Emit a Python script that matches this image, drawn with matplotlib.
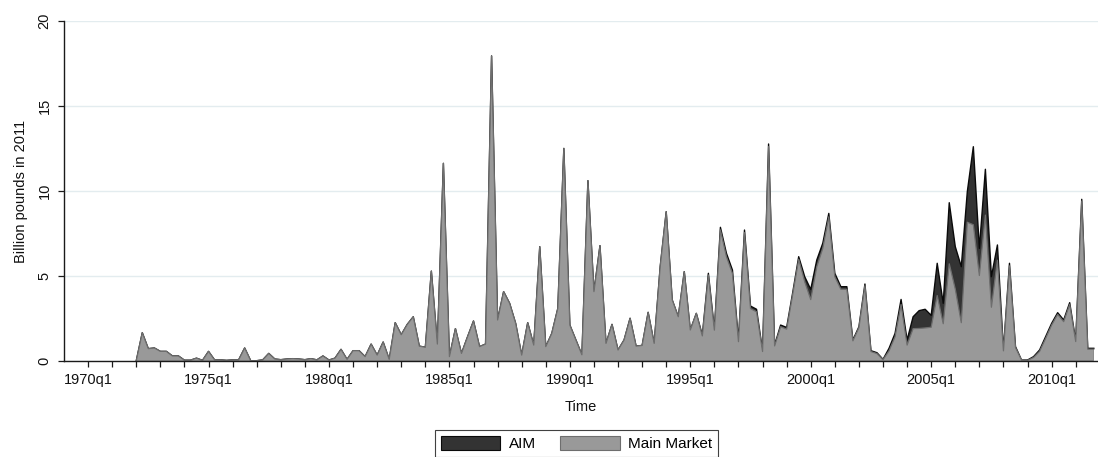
import matplotlib
matplotlib.use("Agg")
import matplotlib.pyplot as plt
import numpy as np
from matplotlib.patches import Patch

plt.rcParams["font.family"] = ["Liberation Sans", "DejaVu Sans"]

# Quarterly IPO proceeds, billion pounds (2011 prices), 1972q1 .. 2011q4
start_year = 1972
main_market = [
    0.0, 1.65, 0.71, 0.75, 0.55, 0.55, 0.28, 0.28,            # 1972-1973
    0.03, 0.03, 0.15, 0.02, 0.55, 0.05, 0.05, 0.02,           # 1974-1975
    0.05, 0.05, 0.75, 0.0, 0.0, 0.05, 0.43, 0.10,             # 1976-1977
    0.06, 0.10, 0.12, 0.10, 0.06, 0.12, 0.05, 0.28,           # 1978-1979
    0.04, 0.15, 0.67, 0.08, 0.59, 0.59, 0.24, 0.98,           # 1980-1981
    0.33, 1.10, 0.08, 2.24, 1.53, 2.14, 2.59, 0.86,           # 1982-1983
    0.79, 5.28, 0.98, 11.63, 0.24, 1.89, 0.43, 1.40,          # 1984-1985
    2.34, 0.83, 0.98, 17.96, 2.40, 4.07, 3.38, 2.20,          # 1986-1987
    0.33, 2.24, 0.92, 6.72, 0.83, 1.61, 3.08, 12.51,          # 1988-1989
    2.10, 1.22, 0.35, 10.61, 4.07, 6.78, 1.02, 2.14,          # 1990-1991
    0.63, 1.22, 2.50, 0.86, 0.90, 2.85, 1.02, 5.54,           # 1992-1993
    8.78, 3.58, 2.59, 5.25, 1.81, 2.79, 1.46, 5.05,           # 1994-1995
    1.80, 7.71, 6.13, 5.14, 1.12, 7.55, 3.07, 2.88,           # 1996-1997
    0.54, 12.62, 0.87, 2.00, 1.86, 3.90, 5.98, 4.65,          # 1998-1999
    3.60, 5.53, 6.62, 8.48, 4.95, 4.21, 4.21, 1.17,           # 2000-2001
    1.95, 4.42, 0.54, 0.42, 0.06, 0.58, 1.41, 3.31,           # 2002-2003
    0.92, 1.89, 1.90, 1.93, 1.97, 3.84, 2.18, 5.71,           # 2004-2005
    4.22, 2.24, 8.16, 8.01, 5.02, 8.58, 3.15, 5.92,           # 2006-2007
    0.58, 5.59, 0.78, 0.04, 0.02, 0.19, 0.55, 1.31,           # 2008-2009
    2.10, 2.73, 2.30, 3.32, 1.13, 9.41, 0.68, 0.68,           # 2010-2011
]
aim = [0] * 94 + [
    0.05, 0.10,                                               # 1995q3-q4
    0.05, 0.15, 0.20, 0.20, 0.10, 0.15, 0.15, 0.15,           # 1996-1997
    0.05, 0.15, 0.05, 0.10, 0.10, 0.10, 0.15, 0.30,           # 1998-1999
    0.60, 0.40, 0.30, 0.20, 0.20, 0.15, 0.15, 0.05,           # 2000-2001
    0.05, 0.10, 0.05, 0.05, 0.02, 0.15, 0.20, 0.30,           # 2002-2003
    0.30, 0.70, 1.05, 1.10, 0.70, 1.90, 1.20, 3.60,           # 2004-2005
    2.50, 3.30, 1.80, 4.60, 1.60, 2.70, 1.80, 0.90,           # 2006-2007
    0.05, 0.15, 0.05, 0.00, 0.02, 0.05, 0.08, 0.10,           # 2008-2009
    0.10, 0.10, 0.10, 0.10, 0.05, 0.10, 0.05, 0.05,           # 2010-2011
]
label_years = [1970, 1975, 1980, 1985, 1990, 1995, 2000, 2005, 2010]

main_market = np.array(main_market)
aim = np.array(aim)
t = start_year + np.arange(len(main_market)) / 4.0
total = main_market + aim

fig = plt.figure(figsize=(10.98, 4.57), dpi=100)
ax = fig.add_axes([64 / 1098, 1 - 360.7 / 457, 1 - 64 / 1098, (360.7 - 21.3) / 457])

aim_fill, aim_edge = "#333333", "#0a0a0a"
mm_fill, mm_edge = "#999999", "#6e6e6e"

# AIM stacked on top of the main market
ax.fill_between(t, 0, total, facecolor=aim_fill, edgecolor="none", zorder=2)
ax.plot(t, total, color=aim_edge, lw=1.0, zorder=3)
ax.fill_between(t, 0, main_market, facecolor=mm_fill, edgecolor="none", zorder=4)
ax.plot(t, main_market, color=mm_edge, lw=0.9, zorder=5)

ax.set_xlim(1969.0, 1970 + 167.7 / 4)
ax.set_ylim(0, 20)
ax.set_yticks([0, 5, 10, 15, 20])
ax.yaxis.grid(True, color="#e3ecef", lw=1.0)
ax.set_axisbelow(True)

ax.set_xticks(np.arange(1970, 2012))
ax.set_xticklabels([f"{y}q1" if y in label_years else "" for y in range(1970, 2012)])

for side in ("top", "right"):
    ax.spines[side].set_visible(False)
for side in ("left", "bottom"):
    ax.spines[side].set_color("#1a1a1a")
    ax.spines[side].set_linewidth(1.0)
    ax.spines[side].set_zorder(6)

ax.tick_params(axis="both", direction="out", length=4, width=0.9, color="#1a1a1a",
               labelsize=10.5, labelcolor="#111111")
ax.tick_params(axis="x", pad=5)
ax.tick_params(axis="y", pad=5)
for lab in ax.get_yticklabels():
    lab.set_rotation(90)
    lab.set_va("center")

ax.set_ylabel("Billion pounds in 2011", fontsize=10.5, color="#111111", labelpad=7)
ax.set_xlabel("Time", fontsize=10.5, color="#111111", labelpad=9)

handles = [
    Patch(facecolor=aim_fill, edgecolor=aim_edge, lw=0.8, label="AIM"),
    Patch(facecolor=mm_fill, edgecolor=mm_edge, lw=0.8, label="Main Market"),
]
leg = fig.legend(handles=handles, loc="upper center",
                 bbox_to_anchor=(576.5 / 1098, 1 - 430 / 457),
                 ncol=2, frameon=True, fancybox=False, edgecolor="#111111", fontsize=11,
                 handlelength=3.9, handleheight=1.0, columnspacing=1.6, borderpad=0.4,
                 handletextpad=0.55, borderaxespad=0)
leg.get_frame().set_linewidth(0.8)

fig.savefig("out.png", dpi=100)
